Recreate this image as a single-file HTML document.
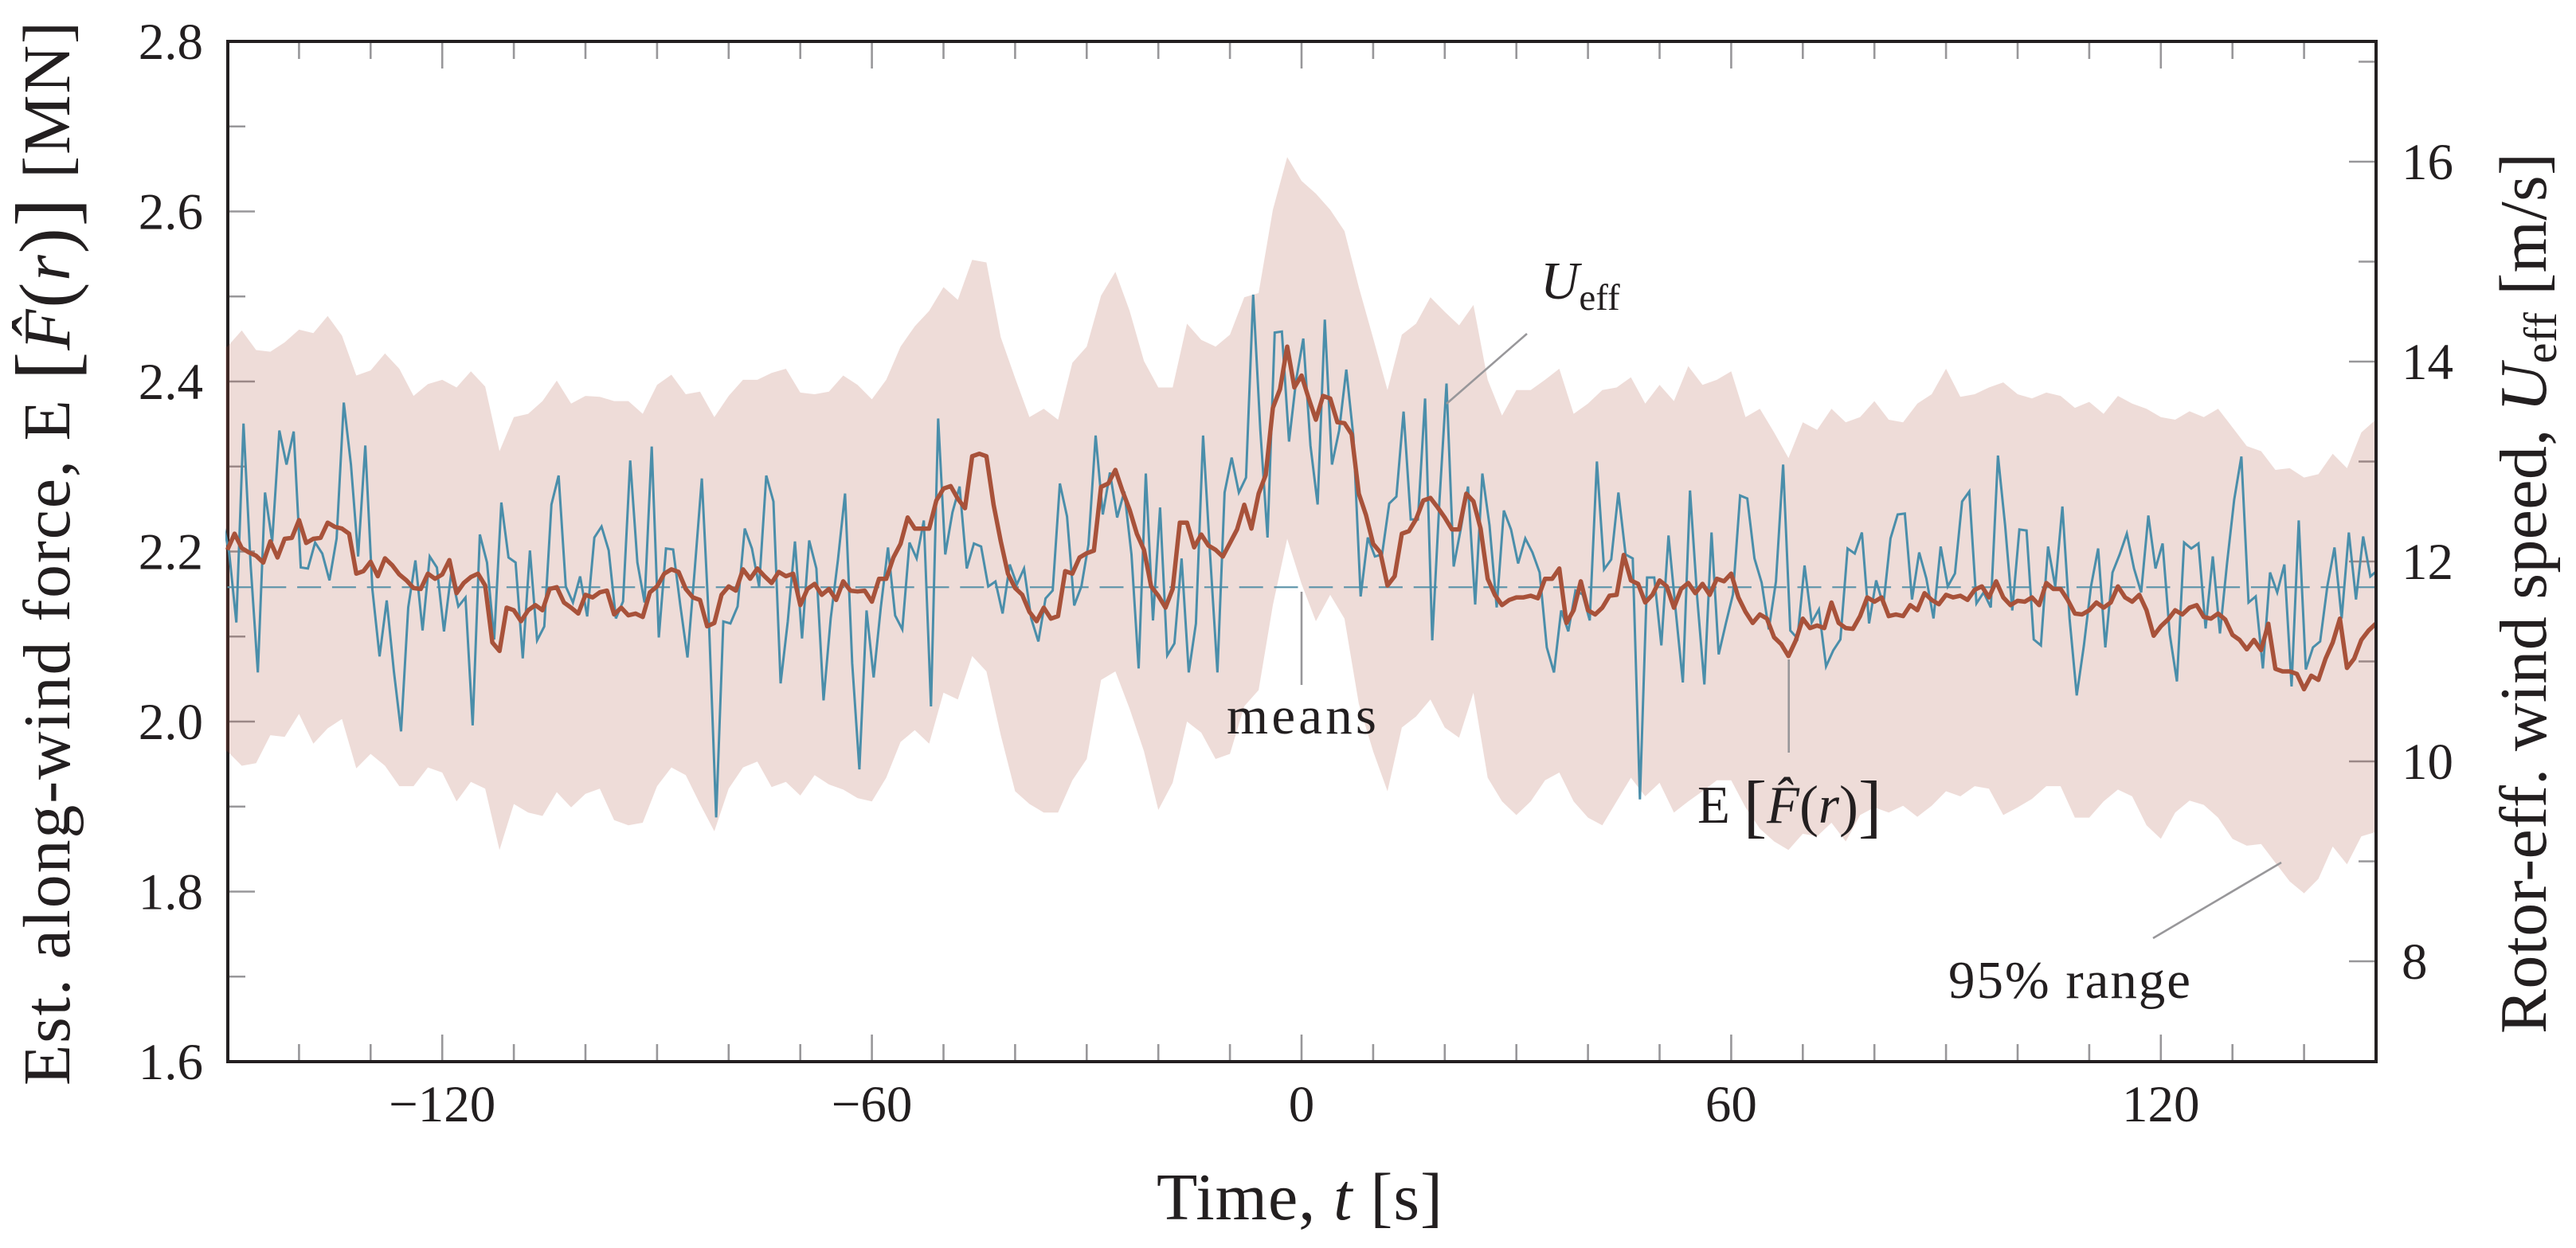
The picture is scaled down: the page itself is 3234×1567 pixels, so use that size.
<!DOCTYPE html>
<html lang="en">
<head>
<meta charset="utf-8">
<title>Estimated along-wind force and rotor-effective wind speed</title>
<style>
  html, body { margin: 0; padding: 0; background: #fff; }
  svg { display: block; }
  text { font-family: "Liberation Serif", "DejaVu Serif", serif; fill: #231f20; }
</style>
</head>
<body>
<svg id="chart" xmlns="http://www.w3.org/2000/svg" width="3234" height="1567" viewBox="0 0 3234 1567">
  <rect x="0" y="0" width="3234" height="1567" fill="#ffffff"/>
  <defs>
    <clipPath id="plot-clip"><rect x="283" y="52" width="2700" height="1281"/></clipPath>
  </defs>
  <g id="ticks"></g>
  <line x1="286" y1="50" x2="286" y2="1335" stroke="#231f20" stroke-width="4"/>
  <g id="marks" clip-path="url(#plot-clip)"></g>
  <line x1="284" y1="52" x2="2985" y2="52" stroke="#231f20" stroke-width="4"/>
  <line x1="2983" y1="50" x2="2983" y2="1335" stroke="#231f20" stroke-width="4"/>
  <line x1="284" y1="1333" x2="2985" y2="1333" stroke="#231f20" stroke-width="4"/>
  <g id="tick-labels" font-size="65"></g>

  <line x1="1816" y1="507" x2="1917" y2="419" stroke="#98979a" stroke-width="2.6"/>
  <line x1="1634" y1="743" x2="1634" y2="860" stroke="#98979a" stroke-width="2.6"/>
  <line x1="2245.7" y1="828" x2="2245.7" y2="945" stroke="#98979a" stroke-width="2.6"/>
  <line x1="2703" y1="1178" x2="2864" y2="1083" stroke="#98979a" stroke-width="2.6"/>

  <text x="1934" y="375" font-size="67"><tspan font-style="italic">U</tspan><tspan font-size="47" dy="14">eff</tspan></text>
  <text x="1540" y="921" font-size="67" textLength="188">means</text>
  <text x="2131" y="1033" font-size="67">E <tspan font-size="88" dy="8">[</tspan><tspan font-style="italic" dy="-8">F&#770;</tspan><tspan font-size="72" dy="3">(</tspan><tspan font-style="italic" dy="-3">r</tspan><tspan font-size="72" dy="3">)</tspan><tspan font-size="88" dy="5">]</tspan></text>
  <text x="2446" y="1253" font-size="67" textLength="304">95% range</text>

  <text x="1452" y="1531" font-size="84" textLength="359">Time, <tspan font-style="italic">t</tspan> [s]</text>
  <text transform="translate(87 1363) rotate(-90)" x="0" y="0" font-size="84" textLength="1336">Est. along-wind force, E <tspan font-size="108" dy="7">[</tspan><tspan font-style="italic" dy="-7">F&#770;</tspan><tspan font-size="96" dy="4">(</tspan><tspan font-style="italic" dy="-4">r</tspan><tspan font-size="96" dy="4">)</tspan><tspan font-size="108" dy="3">]</tspan><tspan dy="-7"> [MN]</tspan></text>
  <text transform="translate(3196 1298) rotate(-90)" x="0" y="0" font-size="84" textLength="1106">Rotor-eff. wind speed, <tspan font-style="italic">U</tspan><tspan font-size="58" dy="13">eff</tspan><tspan dy="-13"> [m/s]</tspan></text>
</svg>

<script>
// --- Axis tick data ---
const xMajorTicks = [-120, -60, 0, 60, 120];
const xMajorLabels = ['\u2212120', '\u221260', '0', '60', '120'];
const xMinorTicks = [-140, -130, -110, -100, -90, -80, -70, -50, -40, -30, -20, -10, 10, 20, 30, 40, 50, 70, 80, 90, 100, 110, 130, 140];
const leftMajorTicks = [1.6, 1.8, 2.0, 2.2, 2.4, 2.6, 2.8];
const leftMajorLabels = ['1.6', '1.8', '2.0', '2.2', '2.4', '2.6', '2.8'];
const leftMinorTicks = [1.7, 1.9, 2.1, 2.3, 2.5, 2.7];
const rightMajorTicks = [8, 10, 12, 14, 16];
const rightMajorLabels = ['8', '10', '12', '14', '16'];
const rightMinorTicks = [9, 11, 13, 15, 17];

// --- Reference level of the means (left axis, MN) ---
const meanForce = 2.158;

// --- Rotor-effective wind speed U_eff [m/s], one sample per second ---
const windStartTime = -150.75;
const windStepSeconds = 1;
const windSpeed = [12.44,
  12.09,11.39,13.38,11.96,10.89,12.69,12.20,13.31,12.97,13.30,
  11.94,11.93,12.19,12.08,11.81,12.23,13.59,12.97,12.05,13.16,
  11.72,11.05,11.61,10.90,10.30,11.54,12.01,11.31,12.05,11.94,
  11.30,11.88,11.55,11.64,10.36,12.27,11.99,11.22,12.59,12.04,
  11.99,11.03,12.11,11.21,11.35,12.57,12.86,11.75,11.59,11.85,
  11.45,12.24,12.35,12.11,11.43,11.60,13.01,11.99,11.59,13.15,
  11.24,12.13,12.12,11.56,11.04,11.91,12.83,11.38,9.44,11.40,
  11.38,11.55,12.33,12.13,11.75,
  12.86,12.60,10.78,11.40,12.20,11.23,12.21,11.93,10.61,11.43,
  12.01,12.68,10.98,9.92,11.51,10.84,11.54,12.14,11.46,11.32,
  12.19,12.03,12.41,10.55,13.43,12.07,12.49,12.75,11.93,12.18,
  12.15,11.75,11.80,11.48,11.97,11.77,11.93,11.43,11.20,11.63,
  11.71,12.78,12.45,11.56,11.75,12.17,13.26,12.47,12.89,12.44,
  12.70,12.07,10.93,12.88,11.41,12.54,11.06,11.18,12.03,10.89,
  11.38,13.26,12.04,10.89,12.69,13.04,12.69,12.84,14.67,13.31,
  12.24,14.29,14.30,13.20,13.82,
  14.23,13.16,12.57,14.42,12.97,13.31,13.92,13.24,11.65,12.24,
  12.05,12.07,12.58,12.65,13.50,12.42,12.42,13.63,11.21,12.60,
  13.78,11.95,12.33,12.75,11.57,12.88,12.36,11.54,12.51,12.32,
  11.98,12.23,12.09,11.89,11.14,10.89,11.51,11.30,11.71,11.67,
  11.41,13.00,11.92,12.02,12.69,12.07,12.03,9.62,11.84,11.84,
  11.16,12.26,11.51,10.79,12.71,11.64,10.77,12.29,11.07,11.38,
  11.67,12.66,12.63,12.03,11.79,11.32,11.80,12.97,11.31,11.23,
  11.96,11.39,11.52,10.95,11.11,11.22,12.13,12.08,12.29,11.38,
  11.81,11.56,12.23,12.47,12.48,11.62,12.09,11.83,11.43,12.15,
  11.75,11.88,12.60,12.70,11.58,11.69,11.54,13.06,12.36,11.51,
  12.32,12.31,11.22,11.16,12.15,11.75,12.55,11.43,10.66,11.16,
  11.75,12.13,11.14,11.89,12.07,12.28,11.93,11.69,12.46,11.93,
  12.18,11.27,10.80,12.19,12.13,12.18,11.33,12.05,11.28,11.99,
  12.62,13.05,11.59,11.65,10.93,11.89,11.69,11.97,10.75,12.41,
  10.92,11.14,11.20,11.75,12.14,11.43,12.29,11.62,12.25,11.85,
  11.91
];

// --- Expected force E[F(r)] [MN], one sample per second from t = -150 ---
const forceStartTime = -150;
const forceStepSeconds = 1;
const expectedForce = [
  2.202,2.221,2.204,2.199,2.195,2.187,2.212,2.193,2.215,2.216,
  2.237,2.210,2.215,2.216,2.234,2.229,2.227,2.221,2.174,2.177,
  2.188,2.171,2.192,2.184,2.173,2.166,2.157,2.156,2.174,2.168,
  2.173,2.190,2.151,2.163,2.170,2.174,2.160,2.093,2.083,2.134,
  2.131,2.118,2.131,2.137,2.131,2.156,2.158,2.140,2.134,2.127,
  2.149,2.146,2.152,2.154,2.126,2.134,2.125,2.127,2.123,2.152,
  2.159,2.174,2.179,2.176,2.156,2.146,2.143,2.112,2.116,2.149,
  2.159,2.154,2.179,2.168,2.180,
  2.171,2.163,2.176,2.171,2.174,2.137,2.156,2.162,2.149,2.156,
  2.143,2.165,2.154,2.153,2.154,2.141,2.168,2.168,2.193,2.209,
  2.240,2.227,2.227,2.227,2.260,2.274,2.277,2.262,2.251,2.312,
  2.315,2.312,2.255,2.212,2.174,2.157,2.149,2.129,2.118,2.134,
  2.121,2.124,2.177,2.174,2.193,2.198,2.201,2.276,2.280,2.296,
  2.271,2.249,2.221,2.202,2.159,2.148,2.134,2.156,2.234,2.234,
  2.205,2.220,2.207,2.202,2.194,2.210,2.226,2.255,2.227,2.268,
  2.290,2.369,2.391,2.441,2.393,
  2.407,2.380,2.355,2.383,2.380,2.352,2.351,2.338,2.268,2.243,
  2.209,2.199,2.160,2.171,2.221,2.224,2.238,2.260,2.263,2.252,
  2.240,2.226,2.226,2.268,2.259,2.227,2.168,2.149,2.137,2.143,
  2.146,2.146,2.148,2.145,2.168,2.168,2.180,2.116,2.131,2.165,
  2.131,2.126,2.134,2.148,2.149,2.196,2.166,2.162,2.140,2.149,
  2.166,2.159,2.134,2.156,2.163,2.151,2.162,2.149,2.168,2.165,
  2.174,2.146,2.129,2.116,2.126,2.121,2.099,2.091,2.077,2.095,
  2.121,2.110,2.113,2.110,2.140,2.116,2.110,2.109,2.124,2.146,
  2.141,2.146,2.124,2.126,2.124,2.137,2.131,2.151,2.143,2.138,
  2.149,2.146,2.148,2.143,2.155,2.159,2.146,2.165,2.146,2.137,
  2.142,2.141,2.146,2.137,2.163,2.156,2.156,2.143,2.127,2.126,
  2.131,2.140,2.134,2.140,2.159,2.146,2.141,2.149,2.131,2.101,
  2.112,2.120,2.131,2.126,2.134,2.137,2.123,2.121,2.127,2.120,
  2.102,2.096,2.085,2.096,2.084,2.115,2.062,2.059,2.059,2.056,
  2.038,2.054,2.049,2.074,2.093,2.121,2.063,2.074,2.096,2.107,
  2.115
];

// --- 95% range of the force [MN], one sample every two seconds from t = -150 ---
const rangeStartTime = -150;
const rangeStepSeconds = 2;
const rangeUpper = [
  2.441,2.460,2.437,2.435,2.446,2.461,2.457,2.477,2.454,2.407,
  2.413,2.433,2.415,2.383,2.397,2.402,2.393,2.412,2.394,2.318,
  2.358,2.362,2.377,2.401,2.374,2.383,2.382,2.377,2.377,2.362,
  2.396,2.408,2.385,2.388,2.358,2.383,2.402,2.402,
  2.410,2.415,2.387,2.385,2.388,2.407,2.396,2.379,2.402,2.441,
  2.465,2.483,2.511,2.496,2.543,2.540,2.452,2.404,2.358,2.368,
  2.355,2.422,2.441,2.501,2.529,2.483,2.424,2.393,2.393,2.468,
  2.449,2.441,2.455,2.499,2.504,2.602,2.664,2.636,2.621,
  2.602,2.577,2.511,2.451,2.390,2.455,2.468,2.499,2.482,2.466,
  2.490,2.402,2.360,2.390,2.390,2.402,2.415,2.362,2.374,2.390,
  2.393,2.405,2.374,2.396,2.377,2.418,2.396,2.402,2.412,2.358,
  2.368,2.340,2.310,2.352,2.343,2.368,2.352,2.358,2.377,
  2.355,2.352,2.374,2.385,2.415,2.382,2.385,2.393,2.399,2.385,
  2.380,2.387,2.383,2.369,2.376,2.362,2.383,2.374,2.368,2.358,
  2.355,2.365,2.358,2.368,2.346,2.324,2.318,2.296,2.298,2.287,
  2.291,2.315,2.298,2.340,2.355
];
const rangeLower = [
  1.965,1.948,1.951,1.984,1.982,2.009,1.974,1.992,2.003,1.945,
  1.962,1.948,1.924,1.924,1.946,1.940,1.906,1.929,1.921,1.849,
  1.903,1.893,1.889,1.917,1.899,1.915,1.921,1.884,1.878,1.881,
  1.924,1.946,1.937,1.903,1.871,1.921,1.946,1.953,
  1.923,1.929,1.913,1.937,1.926,1.920,1.910,1.906,1.934,1.976,
  1.990,1.974,2.034,2.026,2.077,2.059,1.984,1.918,1.903,1.893,
  1.893,1.931,1.956,2.049,2.059,2.015,1.965,1.896,1.928,2.000,
  1.987,1.956,1.962,2.018,2.037,2.137,2.215,2.162,2.118,
  2.149,2.121,2.021,1.965,1.918,1.993,2.006,2.026,1.993,1.981,
  2.034,1.934,1.906,1.890,1.906,1.931,1.940,1.906,1.887,1.878,
  1.906,1.934,1.912,1.928,1.893,1.906,1.918,1.931,1.931,1.899,
  1.874,1.859,1.849,1.868,1.865,1.881,1.859,1.890,1.899,
  1.893,1.901,1.888,1.901,1.918,1.912,1.924,1.921,1.890,1.899,
  1.909,1.924,1.924,1.887,1.887,1.906,1.920,1.912,1.878,1.862,
  1.893,1.907,1.902,1.887,1.862,1.854,1.856,1.834,1.812,1.798,
  1.815,1.853,1.832,1.865,1.870
];

// --- Axis functions ---
function xScale(t) { return 1634 + t * 8.99; }
function yLeft(v) { return 52 + (2.8 - v) * 1067.5; }
function yRight(u) { return 705 + (12 - u) * 125.5; }

const SVG_NS = 'http://www.w3.org/2000/svg';
const ticksGroup = document.getElementById('ticks');
const labelsGroup = document.getElementById('tick-labels');
const marksGroup = document.getElementById('marks');

function tickLine(x1, y1, x2, y2) {
  const el = document.createElementNS(SVG_NS, 'line');
  el.setAttribute('x1', x1);
  el.setAttribute('y1', y1);
  el.setAttribute('x2', x2);
  el.setAttribute('y2', y2);
  el.setAttribute('stroke', '#98979a');
  el.setAttribute('stroke-width', '2.6');
  
  
  ticksGroup.appendChild(el);
}

function tickLabel(x, y, anchor, str) {
  const el = document.createElementNS(SVG_NS, 'text');
  el.setAttribute('x', x);
  el.setAttribute('y', y);
  el.setAttribute('text-anchor', anchor);
  el.textContent = str;
  
  
  labelsGroup.appendChild(el);
}

const MAJOR_LEN = 34;
const MINOR_LEN = 22;

xMajorTicks.forEach(function (t, i) {
  const x = xScale(t);
  tickLine(x, 1333, x, 1333 - MAJOR_LEN);
  tickLine(x, 52, x, 52 + MAJOR_LEN);
  tickLabel(x, 1408, 'middle', xMajorLabels[i]);
});
xMinorTicks.forEach(function (t) {
  const x = xScale(t);
  tickLine(x, 1333, x, 1333 - MINOR_LEN);
  tickLine(x, 52, x, 52 + MINOR_LEN);
});
leftMajorTicks.forEach(function (v, i) {
  const y = yLeft(v);
  if (i > 0 && i < leftMajorTicks.length - 1) tickLine(286, y, 286 + MAJOR_LEN, y);
  tickLabel(255, y + 22, 'end', leftMajorLabels[i]);
});
leftMinorTicks.forEach(function (v) {
  const y = yLeft(v);
  tickLine(286, y, 286 + MINOR_LEN, y);
});
rightMajorTicks.forEach(function (u, i) {
  const y = yRight(u);
  tickLine(2983, y, 2983 - MAJOR_LEN, y);
  tickLabel(3015, y + 22, 'start', rightMajorLabels[i]);
});
rightMinorTicks.forEach(function (u) {
  const y = yRight(u);
  tickLine(2983, y, 2983 - MINOR_LEN, y);
});

// --- 95% range band ---
let bandPath = 'M' + (xScale(rangeStartTime) - 2.5).toFixed(1) + ' ' + yLeft(rangeUpper[0]).toFixed(1);
rangeUpper.forEach(function (v, i) {
  bandPath += 'L' + xScale(rangeStartTime + i * rangeStepSeconds).toFixed(1) + ' ' + yLeft(v).toFixed(1);
});
for (let i = rangeLower.length - 1; i >= 0; i--) {
  bandPath += 'L' + xScale(rangeStartTime + i * rangeStepSeconds).toFixed(1) + ' ' + yLeft(rangeLower[i]).toFixed(1);
}
bandPath += 'L' + (xScale(rangeStartTime) - 2.5).toFixed(1) + ' ' + yLeft(rangeLower[0]).toFixed(1) + 'Z';
const band = document.createElementNS(SVG_NS, 'path');
band.setAttribute('d', bandPath);
band.setAttribute('fill', '#a8523a');
band.setAttribute('fill-opacity', '0.2');


marksGroup.appendChild(band);

// --- Mean reference line ---
const meanLine = document.createElementNS(SVG_NS, 'line');
meanLine.setAttribute('x1', xScale(-150));
meanLine.setAttribute('x2', xScale(150));
meanLine.setAttribute('y1', yLeft(meanForce));
meanLine.setAttribute('y2', yLeft(meanForce));
meanLine.setAttribute('stroke', '#5a92a8');
meanLine.setAttribute('stroke-width', '2.2');
meanLine.setAttribute('stroke-dasharray', '30 13.8');


marksGroup.appendChild(meanLine);

// --- Wind speed line (right axis) ---
const windPts = windSpeed.map(function (u, i) {
  return xScale(windStartTime + i * windStepSeconds).toFixed(1) + ',' + yRight(u).toFixed(1);
}).join(' ');
const windLine = document.createElementNS(SVG_NS, 'polyline');
windLine.setAttribute('points', windPts);
windLine.setAttribute('fill', 'none');
windLine.setAttribute('stroke', '#4a8eaa');
windLine.setAttribute('stroke-width', '3');
windLine.setAttribute('stroke-linejoin', 'miter');


marksGroup.appendChild(windLine);

// --- Expected force line (left axis) ---
const forcePts = expectedForce.map(function (v, i) {
  return xScale(forceStartTime + i * forceStepSeconds).toFixed(1) + ',' + yLeft(v).toFixed(1);
}).join(' ');
const forceLine = document.createElementNS(SVG_NS, 'polyline');
forceLine.setAttribute('points', forcePts);
forceLine.setAttribute('fill', 'none');
forceLine.setAttribute('stroke', '#a8523a');
forceLine.setAttribute('stroke-width', '5.5');
forceLine.setAttribute('stroke-linejoin', 'round');


marksGroup.appendChild(forceLine);
</script>
</body>
</html>
